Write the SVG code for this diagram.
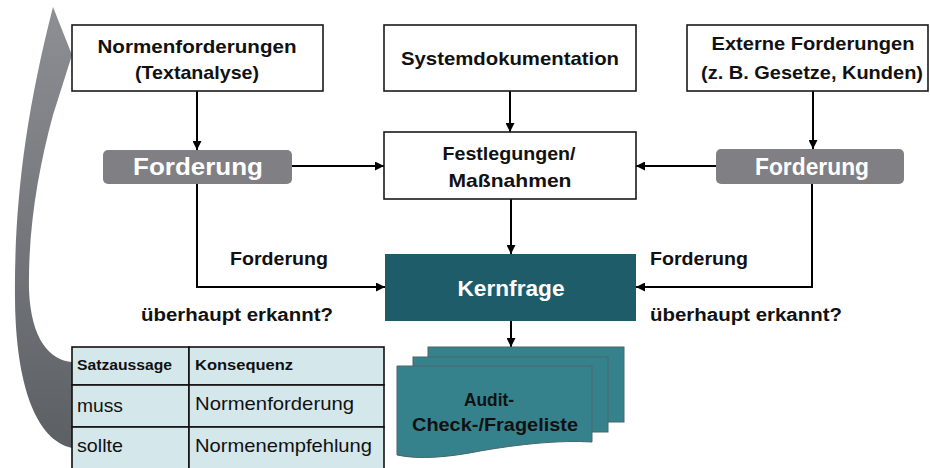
<svg xmlns="http://www.w3.org/2000/svg" width="930" height="468" viewBox="0 0 930 468">
  <style>
    .box { fill: #ffffff; stroke: #1a1a1a; stroke-width: 1.6; }
    .gray { fill: #7f7f84; }
    .t { font-family: "Liberation Sans", Arial, sans-serif; font-weight: bold; fill: #111111; text-anchor: middle; }
    .lbl { font-family: "Liberation Sans", Arial, sans-serif; font-weight: bold; fill: #111111; font-size: 18px; }
    .wt { font-family: "Liberation Sans", Arial, sans-serif; font-weight: bold; fill: #ffffff; text-anchor: middle; }
    .conn { fill: none; stroke: #000000; stroke-width: 2; marker-end: url(#ah); }
    .cell { fill: #d4e7eb; stroke: #111111; stroke-width: 1.6; }
    .th { font-family: "Liberation Sans", Arial, sans-serif; font-weight: bold; font-size: 14px; fill: #111111; }
    .td { font-family: "Liberation Sans", Arial, sans-serif; font-size: 19px; fill: #111111; }
    .doc { fill: #36828c; stroke: #46666a; stroke-width: 1; }
  </style>
  <defs>
    <marker id="ah" viewBox="0 0 10 10" refX="10" refY="5" markerUnits="userSpaceOnUse" markerWidth="9" markerHeight="9" orient="auto">
      <path d="M0,0 L10,5 L0,10 z" fill="#000000"/>
    </marker>
    <linearGradient id="arrowGrad" x1="0" y1="0" x2="0" y2="1">
      <stop offset="0" stop-color="#8e8f94"/>
      <stop offset="1" stop-color="#5c6064"/>
    </linearGradient>
  </defs>

  <!-- curved feedback arrow -->
  <g id="feedback-arrow">
    <path d="M53,7 L72,55 L53,115 C38,170 28,230 29,290 C31,340 50,360 72,362 L72,448 C36,440 16,385 15,300 C14,210 24,120 53,7 Z" fill="url(#arrowGrad)"/>
  </g>

  <g id="connectors">
    <path class="conn" d="M197,91 V150"/>
    <path class="conn" d="M510,91 V132"/>
    <path class="conn" d="M813,91 V149"/>
    <path class="conn" d="M292,166 H384"/>
    <path class="conn" d="M716,166 H636"/>
    <path class="conn" d="M511,199 V254"/>
    <path class="conn" d="M197,184 V287 H385"/>
    <path class="conn" d="M812,184 V287 H636"/>
    <path class="conn" d="M511,321 V347"/>
  </g>

  <g id="normenforderungen">
    <rect class="box" x="72" y="25" width="251" height="66"/>
    <text class="t" x="197" y="53" font-size="19" textLength="199" lengthAdjust="spacingAndGlyphs">Normenforderungen</text>
    <text class="t" x="197" y="79" font-size="19" textLength="124" lengthAdjust="spacingAndGlyphs">(Textanalyse)</text>
  </g>

  <g id="systemdokumentation">
    <rect class="box" x="384" y="25" width="252" height="66"/>
    <text class="t" x="510" y="65" font-size="19" textLength="218" lengthAdjust="spacingAndGlyphs">Systemdokumentation</text>
  </g>

  <g id="externe-forderungen">
    <rect class="box" x="687" y="25" width="241" height="66"/>
    <text class="t" x="813" y="50" font-size="19" textLength="203" lengthAdjust="spacingAndGlyphs">Externe Forderungen</text>
    <text class="t" x="812" y="79" font-size="19" textLength="222" lengthAdjust="spacingAndGlyphs">(z. B. Gesetze, Kunden)</text>
  </g>

  <g id="forderung-left">
    <rect class="gray" x="103" y="150" width="189" height="34" rx="5"/>
    <text class="wt" x="198" y="175" font-size="24" textLength="130" lengthAdjust="spacingAndGlyphs">Forderung</text>
  </g>

  <g id="forderung-right">
    <rect class="gray" x="716" y="149" width="188" height="35" rx="5"/>
    <text class="wt" x="812" y="175" font-size="23" textLength="114" lengthAdjust="spacingAndGlyphs">Forderung</text>
  </g>

  <g id="festlegungen">
    <rect class="box" x="384" y="132" width="252" height="67"/>
    <text class="t" x="509" y="160" font-size="19" textLength="133" lengthAdjust="spacingAndGlyphs">Festlegungen/</text>
    <text class="t" x="510" y="187" font-size="19" textLength="123" lengthAdjust="spacingAndGlyphs">Maßnahmen</text>
  </g>

  <g id="kernfrage">
    <rect x="385" y="254" width="251" height="67" fill="#1f5c69"/>
    <text class="wt" x="511" y="296" font-size="22" textLength="107" lengthAdjust="spacingAndGlyphs">Kernfrage</text>
  </g>

  <g id="label-left">
    <text class="lbl" x="230" y="265" textLength="98" lengthAdjust="spacingAndGlyphs">Forderung</text>
    <text class="lbl" x="141" y="321" textLength="192" lengthAdjust="spacingAndGlyphs">überhaupt erkannt?</text>
  </g>

  <g id="label-right">
    <text class="lbl" x="650" y="265" textLength="98" lengthAdjust="spacingAndGlyphs">Forderung</text>
    <text class="lbl" x="650" y="321" textLength="192" lengthAdjust="spacingAndGlyphs">überhaupt erkannt?</text>
  </g>

  <g id="audit-liste">
    <rect class="doc" x="428" y="347" width="196" height="75"/>
    <rect class="doc" x="413" y="357" width="195" height="75"/>
    <path class="doc" d="M397,366 H592 V442 C560,440 520,444 480,451 C450,457 420,460 397,455 Z"/>
    <text class="t" x="489" y="406" font-size="19" textLength="50" lengthAdjust="spacingAndGlyphs">Audit-</text>
    <text class="t" x="495" y="431" font-size="19" textLength="166" lengthAdjust="spacingAndGlyphs">Check-/Frageliste</text>
  </g>

  <g id="tabelle">
    <rect class="cell" x="72" y="347" width="117" height="38"/>
    <rect class="cell" x="189" y="347" width="195" height="38"/>
    <rect class="cell" x="72" y="385" width="117" height="42"/>
    <rect class="cell" x="189" y="385" width="195" height="42"/>
    <rect class="cell" x="72" y="427" width="117" height="45"/>
    <rect class="cell" x="189" y="427" width="195" height="45"/>
    <text class="th" x="77" y="370" textLength="95" lengthAdjust="spacingAndGlyphs">Satzaussage</text>
    <text class="th" x="195" y="370" textLength="98" lengthAdjust="spacingAndGlyphs">Konsequenz</text>
    <text class="td" x="77" y="412" textLength="46" lengthAdjust="spacingAndGlyphs">muss</text>
    <text class="td" x="195" y="410" textLength="159" lengthAdjust="spacingAndGlyphs">Normenforderung</text>
    <text class="td" x="77" y="452" textLength="46" lengthAdjust="spacingAndGlyphs">sollte</text>
    <text class="td" x="195" y="452" textLength="177" lengthAdjust="spacingAndGlyphs">Normenempfehlung</text>
  </g>
</svg>
